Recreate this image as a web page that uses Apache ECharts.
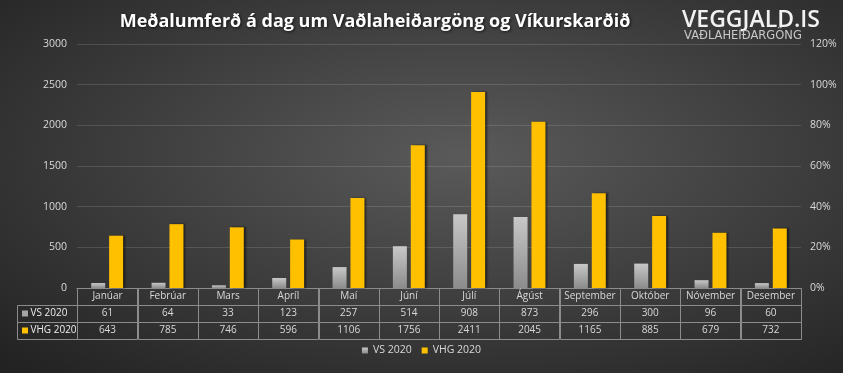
<!DOCTYPE html>
<html>
<head>
<meta charset="utf-8">
<script src="https://cdn.jsdelivr.net/npm/echarts@6/dist/echarts.min.js"></script>
<style>html,body{margin:0;padding:0;background:#2a2a2a}#c{width:843px;height:373px}</style>
</head>
<body>
<div id="c"></div>
<script>
const months = ['Janúar','Febrúar','Mars','Apríl','Maí','Júní','Júlí','Ágúst','September','Október','Nóvember','Desember'];
const vs2020 = [61, 64, 33, 123, 257, 514, 908, 873, 296, 300, 96, 60];
const vhg2020 = [643, 785, 746, 596, 1106, 1756, 2411, 2045, 1165, 885, 679, 732];
const seriesNames = ['VS 2020', 'VHG 2020'];
const titleText = 'Meðalumferð á dag um Vaðlaheiðargöng og Víkurskarðið';

const FONT = "'Open Sans', sans-serif";
const TXT = '#d9d9d9';
const grayGrad = new echarts.graphic.LinearGradient(0,0,0,1,[{offset:0,color:'#c8c8c8'},{offset:1,color:'#8c8c8c'}]);
const yellow = '#FFC000';

// table cells
const cols = ['', ...months];
const cells = [];
months.forEach((m,i)=>{
  cells.push({col:i+1,row:0,text:m});
  cells.push({col:i+1,row:1,text:String(vs2020[i])});
  cells.push({col:i+1,row:2,text:String(vhg2020[i])});
});
cells.push({col:0,row:1,text:seriesNames[0],key:'#a6a6a6'});
cells.push({col:0,row:2,text:seriesNames[1],key:yellow});

const chart = echarts.init(document.getElementById('c'), null, {renderer:'canvas'});
chart.setOption({
  backgroundColor: '#2a2a2a',
  animation: false,
  graphic: [
    {type:'rect', z:-100, zlevel:0, silent:true, x:0, y:0, scaleX:843/373, scaleY:1, originX:0, originY:0,
     shape:{x:0,y:0,width:373,height:373},
     style:{fill:new echarts.graphic.RadialGradient(0.55,0.42,0.78,[{offset:0,color:'#5a5a5a'},{offset:1,color:'#222222'}])}},
    {type:'text', x:375, y:22, z:10, style:{text:titleText, fill:'#ffffff', font:"bold 18px 'Open Sans', sans-serif",
      textAlign:'center', textVerticalAlign:'middle', textShadowColor:'rgba(0,0,0,0.7)', textShadowBlur:3, textShadowOffsetX:1, textShadowOffsetY:1}},
    {type:'text', x:682, y:20, z:10, style:{text:'VEGGJALD.IS', fill:'#f2f2f2', font:"600 23px 'Open Sans', sans-serif", textAlign:'left', textVerticalAlign:'middle'}},
    {type:'text', x:684, y:36, z:10, style:{text:'VAÐLAHEIÐARGÖNG', fill:'#c8c8c8', font:"11.5px 'DejaVu Sans', sans-serif", textAlign:'left', textVerticalAlign:'middle'}}
  ],
  legend: {
    data: seriesNames, bottom: 12, left: 'center', icon: 'rect', itemWidth: 6, itemHeight: 6, itemGap: 10,
    textStyle: {color: TXT, fontSize: 10.5, fontFamily: FONT}
  },
  grid: [
    {left:77, right:42, top:44, height:244, containLabel:false},
    {left:17, right:42, top:288, height:51, containLabel:false}
  ],
  xAxis: [
    {type:'category', gridIndex:0, data:months, axisLabel:{show:false}, axisTick:{show:false},
     axisLine:{show:true, lineStyle:{color:'#8c8c8c'}}},
    {type:'category', gridIndex:1, data:cols, show:false}
  ],
  yAxis: [
    {type:'value', gridIndex:0, min:0, max:3000, interval:500, axisLine:{show:false}, axisTick:{show:false},
     axisLabel:{color:TXT, fontSize:10.5, fontFamily:FONT, margin:10, formatter:v=>String(v)},
     splitLine:{lineStyle:{color:'rgba(255,255,255,0.13)'}}},
    {type:'value', gridIndex:0, min:0, max:1.2, interval:0.2, position:'right', axisLine:{show:false}, axisTick:{show:false},
     axisLabel:{color:TXT, fontSize:10.5, fontFamily:FONT, margin:9, formatter:v=>Math.round(v*100)+'%'},
     splitLine:{show:false}},
    {type:'category', gridIndex:1, data:['h','a','b'], inverse:true, show:false}
  ],
  series: [
    {name:seriesNames[0], type:'bar', xAxisIndex:0, yAxisIndex:0, data:vs2020, barWidth:14, barGap:'28%',
     itemStyle:{color:grayGrad}},
    {name:seriesNames[1], type:'bar', xAxisIndex:0, yAxisIndex:0, data:vhg2020, barWidth:14,
     itemStyle:{color:yellow, shadowColor:'rgba(0,0,0,0.55)', shadowBlur:2, shadowOffsetX:2, shadowOffsetY:0}},
    {type:'custom', xAxisIndex:1, yAxisIndex:2, silent:true,
     data: cells.map(c=>[c.col,c.row]),
     renderItem: function(params, api){
       const c = cells[params.dataIndex];
       const p = api.coord([api.value(0), api.value(1)]);
       const s = api.size([1,1]);
       const x0 = Math.round(p[0]-s[0]/2)+0.5, y0 = Math.round(p[1]-s[1]/2)+0.5;
       const w = Math.round(s[0]), h = Math.round(s[1]);
       const children = [
         {type:'rect', shape:{x:x0,y:y0,width:w,height:h}, style:{fill:null, stroke:'#8c8c8c', lineWidth:1}}
       ];
       if (c.key) {
         children.push({type:'rect', shape:{x:x0+4.5,y:p[1]-3,width:6,height:6}, style:{fill:c.key}});
         children.push({type:'text', x:x0+13, y:p[1], style:{text:c.text, fill:'#ececec', font:"10px 'Open Sans', sans-serif", textAlign:'left', textVerticalAlign:'middle'}});
       } else {
         children.push({type:'text', x:p[0], y:p[1], style:{text:c.text, fill:TXT, font:"10px 'Open Sans', sans-serif", textAlign:'center', textVerticalAlign:'middle'}});
       }
       return {type:'group', children};
     }}
  ]
});
</script>
</body>
</html>
